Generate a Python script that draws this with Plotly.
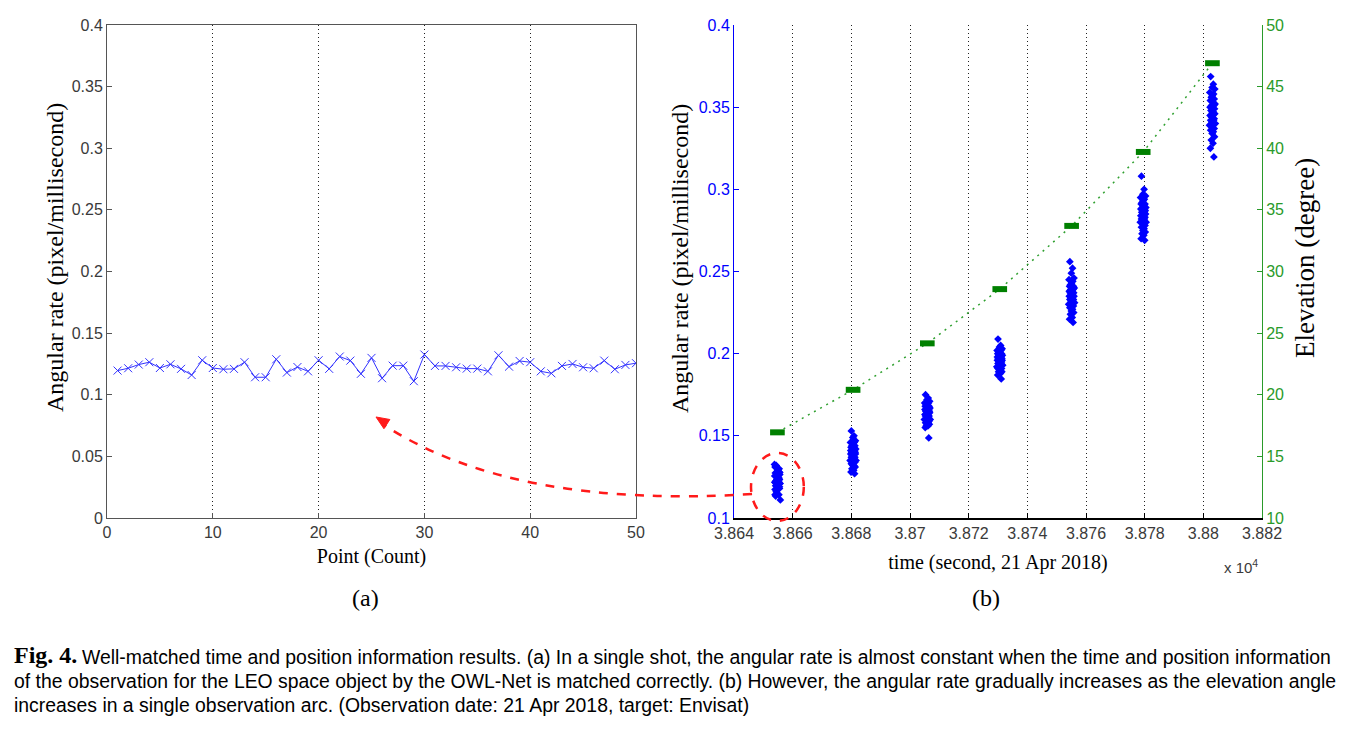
import math
import plotly.graph_objects as go

# page body has an 8px margin; figure sized to fit inside the 1361x732 window
OX, OY = 8, 8
FW, FH = 1361 - 2 * OX, 732 - 2 * OY

# ---------------- data ----------------
# (a) angular rate within one shot (points 1..50)
point_idx = list(range(1, 51))
rate_a = [0.1196, 0.1215, 0.1245, 0.1264, 0.1217, 0.1247, 0.1210, 0.1160, 0.1280, 0.1217,
          0.1207, 0.1210, 0.1264, 0.1142, 0.1142, 0.1288, 0.1180, 0.1225, 0.1190, 0.1280,
          0.1210, 0.1310, 0.1277, 0.1170, 0.1299, 0.1134, 0.1236, 0.1236, 0.1110, 0.1326,
          0.1234, 0.1234, 0.1223, 0.1212, 0.1212, 0.1190, 0.1320, 0.1228, 0.1274, 0.1264,
          0.1190, 0.1174, 0.1234, 0.1250, 0.1223, 0.1215, 0.1277, 0.1207, 0.1242, 0.1256]

# (b) shot times (seconds of day) and elevation (degree)
shot_time = [38654.8, 38680.6, 38705.9, 38730.6, 38755.1, 38779.5, 38803.1]
elevation = [16.95, 20.4, 24.17, 28.57, 33.7, 39.7, 46.9]
bar_half_width_s = 2.5

# time offsets (s) of each measurement within a shot
time_offset = [-0.6, 0.3, -0.1, 0.8, -0.9, 0.4, 0.0, -0.4, 0.6, -0.7,
               0.2, 0.9, -0.3, 0.5, -0.8, 0.1, 0.7, -0.5, 0.3, -0.1,
               0.8, -0.8, 0.1, -0.3, 0.6, -0.6, 0.4, -0.2, 1.0, -1.0,
               0.0, 0.6, -0.6, 0.3, -0.1, 0.7, -0.4, 0.2, -0.7, 0.5,
               0.1, -0.8, 0.7, -0.3, 0.4, -0.5, 0.8, -0.1, 0.5, -0.9]

rate_shot1 = rate_a
rate_shot2 = [0.153, 0.150, 0.149, 0.147, 0.146, 0.146, 0.145, 0.144, 0.144, 0.143,
              0.143, 0.142, 0.142, 0.141, 0.141, 0.141, 0.140, 0.140, 0.140, 0.139,
              0.139, 0.139, 0.138, 0.138, 0.137, 0.137, 0.136, 0.136, 0.135, 0.135,
              0.134, 0.134, 0.133, 0.132, 0.132, 0.131, 0.130, 0.129, 0.128, 0.127]
rate_shot3 = [0.175, 0.173, 0.172, 0.171, 0.170, 0.170, 0.169, 0.169, 0.168, 0.168,
              0.167, 0.167, 0.167, 0.166, 0.166, 0.166, 0.165, 0.165, 0.165, 0.164,
              0.164, 0.163, 0.163, 0.163, 0.162, 0.162, 0.161, 0.161, 0.160, 0.160,
              0.159, 0.159, 0.158, 0.158, 0.157, 0.157, 0.156, 0.156, 0.155, 0.1487]
rate_shot4 = [0.2089, 0.205, 0.204, 0.203, 0.202, 0.202, 0.201, 0.201, 0.200, 0.200,
              0.199, 0.199, 0.199, 0.198, 0.198, 0.198, 0.197, 0.197, 0.197, 0.196,
              0.196, 0.196, 0.195, 0.195, 0.195, 0.194, 0.194, 0.193, 0.193, 0.192,
              0.192, 0.191, 0.191, 0.190, 0.190, 0.189, 0.189, 0.188, 0.187, 0.1846]
rate_shot5 = [0.256, 0.252, 0.249, 0.246, 0.245, 0.244, 0.243, 0.242, 0.241, 0.241,
              0.240, 0.240, 0.239, 0.239, 0.238, 0.238, 0.237, 0.237, 0.236, 0.236,
              0.235, 0.235, 0.234, 0.234, 0.233, 0.233, 0.232, 0.232, 0.231, 0.230,
              0.230, 0.229, 0.228, 0.227, 0.226, 0.225, 0.224, 0.222, 0.221, 0.219]
rate_shot6 = [0.308, 0.300, 0.297, 0.296, 0.295, 0.294, 0.293, 0.292, 0.291, 0.291,
              0.290, 0.289, 0.289, 0.288, 0.288, 0.287, 0.287, 0.286, 0.286, 0.285,
              0.285, 0.284, 0.284, 0.283, 0.283, 0.282, 0.282, 0.281, 0.280, 0.280,
              0.279, 0.278, 0.277, 0.276, 0.275, 0.274, 0.273, 0.272, 0.270, 0.269]
rate_shot7 = [0.3686, 0.364, 0.362, 0.361, 0.359, 0.358, 0.357, 0.356, 0.355, 0.354,
              0.353, 0.352, 0.351, 0.351, 0.350, 0.349, 0.349, 0.348, 0.347, 0.347,
              0.346, 0.345, 0.345, 0.344, 0.343, 0.342, 0.342, 0.341, 0.340, 0.339,
              0.338, 0.337, 0.336, 0.335, 0.334, 0.332, 0.330, 0.328, 0.325, 0.3197]
rates_b = [rate_shot1, rate_shot2, rate_shot3, rate_shot4, rate_shot5, rate_shot6, rate_shot7]

x_ticks_b = [38640, 38660, 38680, 38700, 38720, 38740, 38760, 38780, 38800, 38820]
x_ticklabels_b = ['3.864', '3.866', '3.868', '3.87', '3.872', '3.874', '3.876', '3.878', '3.88', '3.882']

# ---------------- helpers (screen pixel -> paper fraction) ----------------
def px(x):
    return (x - OX) / FW

def py(y):
    return 1 - (y - OY) / FH

SERIF = "Liberation Serif, Times New Roman, serif"
SANS = "Liberation Sans, Arial, sans-serif"
BLUE = "#0000ff"
GREEN_AX = "#2a9a2a"
GREEN_MK = "#008000"
RED = "#ff1a1a"
GRID_DASH = "1px,3px"

fig = go.Figure()

# (a)
fig.add_trace(go.Scatter(
    x=point_idx, y=rate_a, mode="lines+markers", xaxis="x", yaxis="y",
    line=dict(color="#3333ff", width=1),
    marker=dict(symbol="x-thin", size=8, line=dict(color="#3333ff", width=1)),
    showlegend=False))

# (b) angular rate clusters
bx, by = [], []
for t, vals in zip(shot_time, rates_b):
    for k, v in enumerate(vals):
        bx.append(t + time_offset[k])
        by.append(v)
fig.add_trace(go.Scatter(
    x=bx, y=by, mode="markers", xaxis="x2", yaxis="y2",
    marker=dict(symbol="diamond", size=6, color=BLUE),
    showlegend=False))

# elevation dotted line
fig.add_trace(go.Scatter(
    x=shot_time, y=elevation, mode="lines", xaxis="x2", yaxis="y3",
    line=dict(color="#30a030", width=1.5, dash="2px,5px"), showlegend=False))

# elevation bars
ex, ey = [], []
for t, e in zip(shot_time, elevation):
    ex += [t - bar_half_width_s, t + bar_half_width_s, None]
    ey += [e, e, None]
fig.add_trace(go.Scatter(
    x=ex, y=ey, mode="lines", xaxis="x2", yaxis="y3",
    line=dict(color=GREEN_MK, width=6), showlegend=False))

dom_y = [py(518), py(25)]
tickfont_gray = dict(family=SANS, size=16, color="#3a3a3a")
xtitle_font = dict(family=SERIF, size=20, color="black")
ytitle_font = dict(family=SERIF, size=24, color="black")
eltitle_font = dict(family=SERIF, size=27, color="black")

fig.update_layout(
    width=FW, height=FH, autosize=False,
    margin=dict(l=0, r=0, t=0, b=0, autoexpand=False),
    paper_bgcolor="white", plot_bgcolor="white",
    xaxis=dict(domain=[px(107), px(636)], range=[0, 50], tickvals=[0, 10, 20, 30, 40, 50],
               showgrid=True, gridcolor="#222", griddash=GRID_DASH, gridwidth=1,
               zeroline=False, showline=True, linecolor="#555", linewidth=1, mirror=True,
               ticks="inside", ticklen=5, tickcolor="#555", tickfont=tickfont_gray,
               automargin=False,
               title=dict(text="Point (Count)", font=xtitle_font, standoff=8), anchor="y"),
    yaxis=dict(domain=dom_y, range=[0, 0.4], dtick=0.05, tick0=0,
               showgrid=False, zeroline=False, showline=True, linecolor="#555", linewidth=1,
               mirror=True, ticks="inside", ticklen=5, tickcolor="#555", tickfont=tickfont_gray,
               automargin=False, anchor="x"),
    xaxis2=dict(domain=[px(734), px(1262)], range=[38640, 38820], tickvals=x_ticks_b,
                ticktext=x_ticklabels_b, showgrid=True, gridcolor="#222", griddash=GRID_DASH,
                gridwidth=1, zeroline=False, showline=True, linecolor="black", linewidth=2,
                ticks="inside", ticklen=5, tickcolor="black", tickfont=tickfont_gray,
                automargin=False,
                title=dict(text="time (second, 21 Apr 2018)", font=xtitle_font, standoff=14),
                anchor="y2"),
    yaxis2=dict(domain=dom_y, range=[0.1, 0.4], dtick=0.05, tick0=0.1,
                showgrid=False, zeroline=False, showline=True, linecolor=BLUE, linewidth=1,
                ticks="inside", ticklen=5, tickcolor=BLUE,
                tickfont=dict(family=SANS, size=16, color=BLUE),
                automargin=False, anchor="x2"),
    yaxis3=dict(domain=dom_y, range=[10, 50], dtick=5, tick0=10, overlaying="y2", side="right",
                showgrid=False, zeroline=False, showline=True, linecolor=GREEN_AX, linewidth=1,
                ticks="inside", ticklen=5, tickcolor=GREEN_AX,
                tickfont=dict(family=SANS, size=16, color=GREEN_AX),
                automargin=False, anchor="x2"),
)

# red dashed ellipse around the first shot
t1 = shot_time[0]
fig.add_shape(type="circle", xref="x2", yref="paper",
              x0=t1 - 9.0, x1=t1 + 9.0, y0=py(521), y1=py(453),
              line=dict(color=RED, width=2.5, dash="dash"))

# red dashed curved arrow
p0 = (752, 494)
c = (513, 509)
p2 = (384, 425)
path = "M {:.4f},{:.4f} Q {:.4f},{:.4f} {:.4f},{:.4f}".format(
    px(p0[0]), py(p0[1]), px(c[0]), py(c[1]), px(p2[0]), py(p2[1]))
fig.add_shape(type="path", xref="paper", yref="paper", path=path,
              line=dict(color=RED, width=2.5, dash="dash"))

# arrowhead as filled triangle
tip = (376, 417)
dx, dy = p2[0] - c[0], p2[1] - c[1]
n = math.hypot(dx, dy)
ux, uy = dx / n, dy / n
L, hw = 13, 5.5
bxc, byc = tip[0] - L * ux, tip[1] - L * uy
pa = (bxc - hw * uy, byc + hw * ux)
pb = (bxc + hw * uy, byc - hw * ux)
tri = "M {:.4f},{:.4f} L {:.4f},{:.4f} L {:.4f},{:.4f} Z".format(
    px(tip[0]), py(tip[1]), px(pa[0]), py(pa[1]), px(pb[0]), py(pb[1]))
fig.add_shape(type="path", xref="paper", yref="paper", path=tri,
              fillcolor=RED, line=dict(color=RED, width=1))

CAP = dict(family=SANS, size=19.4, color="black")
annotations = [
    # y-axis titles
    dict(x=px(55), y=py(258), xref="paper", yref="paper",
         text="Angular rate (pixel/millisecond)", textangle=-90, showarrow=False,
         xanchor="center", yanchor="middle", font=ytitle_font),
    dict(x=px(680), y=py(259), xref="paper", yref="paper",
         text="Angular rate (pixel/millisecond)", textangle=-90, showarrow=False,
         xanchor="center", yanchor="middle", font=ytitle_font),
    dict(x=px(1305), y=py(258), xref="paper", yref="paper",
         text="Elevation (degree)", textangle=-90, showarrow=False,
         xanchor="center", yanchor="middle", font=eltitle_font),
    dict(x=px(1222), y=py(566), xref="paper", yref="paper", text="x 10<sup>4</sup>",
         showarrow=False, xanchor="left", yanchor="middle",
         font=dict(family=SANS, size=15, color="#3a3a3a")),
    dict(x=px(365), y=py(598), xref="paper", yref="paper", text="(a)", showarrow=False,
         xanchor="center", yanchor="middle",
         font=dict(family=SERIF, size=24, color="black")),
    dict(x=px(986), y=py(598), xref="paper", yref="paper", text="(b)", showarrow=False,
         xanchor="center", yanchor="middle",
         font=dict(family=SERIF, size=24, color="black")),
    dict(x=px(12), y=py(655), xref="paper", yref="paper", text="<b>Fig. 4.</b>", showarrow=False,
         xanchor="left", yanchor="middle", font=dict(family=SERIF, size=24, color="black")),
    dict(x=px(80), y=py(657), xref="paper", yref="paper",
         text="Well-matched time and position information results. (a) In a single shot, the angular rate is almost constant when the time and position information",
         showarrow=False, xanchor="left", yanchor="middle", font=CAP),
    dict(x=px(12), y=py(681), xref="paper", yref="paper",
         text="of the observation for the LEO space object by the OWL-Net is matched correctly. (b) However, the angular rate gradually increases as the elevation angle",
         showarrow=False, xanchor="left", yanchor="middle", font=CAP),
    dict(x=px(12), y=py(705), xref="paper", yref="paper",
         text="increases in a single observation arc. (Observation date: 21 Apr 2018, target: Envisat)",
         showarrow=False, xanchor="left", yanchor="middle", font=CAP),
]
fig.update_layout(annotations=annotations)

fig.write_html("out.html")
